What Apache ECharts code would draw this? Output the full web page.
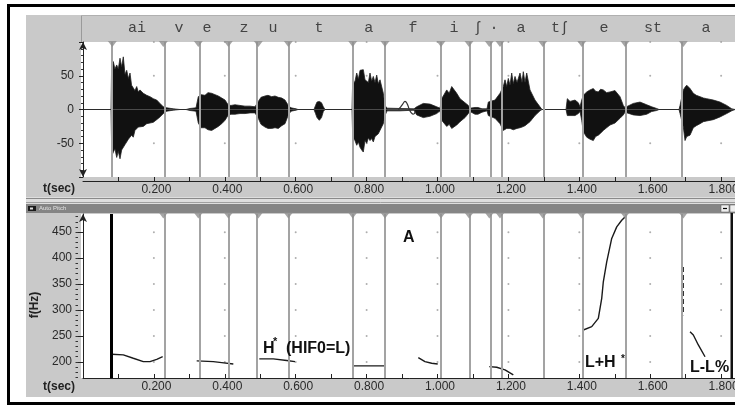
<!DOCTYPE html>
<html><head><meta charset="utf-8">
<script src="https://cdn.jsdelivr.net/npm/echarts@6/dist/echarts.min.js"></script>
<style>html,body{margin:0;padding:0;background:#fff}#c{width:735px;height:407px}</style>
</head><body><div id="c"></div>
<script>
// ---- data ----
const segBounds = [0.0827,0.2265,0.3252,0.4099,0.4945,0.5791,0.7608,0.8519,1.0099,1.0889,1.1461,1.1763,1.2968,1.4068,1.5289,1.6934];
const segLabels = ['ai','v','e','z','u','t','a','f','i','ʃ','·','a','tʃ','e','st','a'];
const segLabelTimes = [0.1523,0.2708,0.3498,0.4542,0.5360,0.6657,0.8060,0.9309,1.0465,1.1142,1.1594,1.2355,1.3456,1.4697,1.6079,1.7574];
const cursorTime = 0.0827;
const timeTicks = [0.2,0.4,0.6,0.8,1.0,1.2,1.4,1.6,1.8];
const ampDots = [100,50,-50];
const hzDots = [450,400,350,300,250,200];
const hzLabels = [200,250,300,350,400,450];
const hzMinor = [170,180,190,200,210,220,230,240,250,260,270,280,290,300,310,320,330,340,350,360,370,380,390,400,410,420,430,440,450,460,470,480];
// waveform envelope: [time s, upper, lower]
const waveEnvelope = [
[0,0,0],[0.0790,0,0],[0.0810,73,-61],[0.0833,62,-66],[0.0855,71,-68],[0.0900,60,-58],[0.0951,66,-71],[0.0995,60,-62],
[0.1044,76,-73],[0.1090,63,-60],[0.1137,78,-61],[0.1185,52,-52],[0.1233,58,-50],[0.1280,46,-44],
[0.1326,54,-46],[0.1370,36,-38],[0.1419,34,-41],[0.1465,28,-31],[0.1515,34,-33],[0.1560,26,-26],[0.1608,29,-28],[0.1701,24,-25],[0.1797,21,-21],[0.1890,19,-20],
[0.1983,16,-19],[0.2079,14,-15],[0.2172,9,-11],[0.2265,4,-6],[0.2361,2.5,-2.5],[0.2547,1,-1],[0.2736,0,0],[0.2906,0,0],
[0.3018,1.5,-1.5],[0.3188,2.5,-2.5],[0.3252,19,-20],[0.3329,22,-27],[0.3441,21,-27],[0.3526,25,-30],[0.3630,24,-31],
[0.3724,22,-28],[0.3817,20,-25],[0.3913,17,-21],[0.4006,14,-16],[0.4099,6.5,-8],[0.4175,6,-7],[0.4288,7,-7],[0.4429,6,-6],
[0.4570,5,-6],[0.4711,5,-5],[0.4852,4,-5],[0.4945,12,-13],[0.5021,18,-22],[0.5134,20,-26],[0.5219,21,-28],[0.5323,19,-28],
[0.5416,20,-27],[0.5509,18,-28],[0.5605,17,-24],[0.5698,14,-21],[0.5791,6,-8],[0.5867,2.5,-2.5],[0.6008,1,-1],[0.6065,0,0],
[0.6516,0,0],[0.6559,6,-6],[0.6601,11,-12],[0.6666,12,-16],[0.6728,10,-12],[0.6779,4,-3],[0.6827,0,0],[0.7588,0,0],
[0.7608,44,-41],[0.7665,40,-45],[0.7721,54,-53],[0.7768,45,-48],[0.7814,58,-56],[0.7862,59,-60],[0.7907,59,-63],[0.7955,44,-46],
[0.8003,46,-50],[0.8050,40,-42],[0.8096,54,-46],[0.8142,42,-43],[0.8189,49,-48],[0.8237,40,-40],[0.8285,51,-41],[0.8330,38,-36],
[0.8378,44,-36],[0.8471,24,-21],[0.8519,6,-9],[0.8575,2,-2],[0.8942,1.5,-2],[0.9337,1,-1],
[0.9413,4,-8],[0.9599,9,-12],[0.9788,8,-10],[0.9977,4,-6],[1.0071,2,-2],[1.0118,16,-16],[1.0260,29,-25],[1.0330,24,-22],[1.0401,34,-28],
[1.0542,24,-23],[1.0635,16,-18],[1.0683,18,-16],[1.0776,10,-12],[1.0869,6,-6],[1.0917,2,-3],[1.1058,3,-7],[1.1142,3,-7],
[1.1255,1,-4],[1.1396,1,-2],[1.1433,11,-9],[1.1622,14,-13],[1.1763,24,-21],[1.1856,34,-31],[1.1904,44,-30],[1.1952,34,-28],
[1.1997,46,-26],[1.2045,36,-28],[1.2093,54,-29],[1.2138,38,-30],[1.2186,49,-30],[1.2243,40,-28],[1.2327,54,-27],
[1.2384,40,-26],[1.2420,56,-25],[1.2468,40,-24],[1.2516,54,-24],[1.2609,29,-18],[1.2750,14,-9],[1.2891,4,-2],[1.2948,0,0],
[1.3625,0,0],[1.3661,16,-9],[1.3738,12,-9],[1.3879,14,-9],[1.3972,10,-6],[1.4020,4,-3],[1.4068,14,-16],[1.4113,21,-33],
[1.4209,26,-41],[1.4302,29,-44],[1.4395,31,-46],[1.4460,27,-40],[1.4536,26,-38],[1.4600,30,-35],[1.4677,29,-31],[1.4770,25,-27],[1.4866,26,-23],[1.5007,28,-20],
[1.5148,19,-13],[1.5241,6,-8],[1.5289,3,-4],[1.5337,4,-4],[1.5523,9,-8],[1.5712,11,-9],[1.5901,7,-7],[1.6042,4,-3],
[1.6183,1.5,-1.5],[1.6248,0,0],[1.6812,0,0],[1.6841,6,-6],[1.6934,29,-26],[1.6982,33,-46],[1.7030,36,-40],[1.7123,31,-38],
[1.7216,24,-27],[1.7300,21,-24],[1.7405,19,-21],[1.7500,17,-18],[1.7593,16,-17],[1.7780,14,-15],[1.7969,11,-11],[1.8158,6,-6],[1.8299,1,-2],[1.8392,0,0]
];
const waveWiggle = [[0.8894,0],[0.8962,4],[0.9018,8],[0.9083,12],[0.9148,8],[0.9205,0],[0.9261,-5],[0.9317,-7],[0.9374,-3]];
const pitchSegments = [
[[0.081,214.8],[0.1137,213.5],[0.1419,207],[0.1701,200.6],[0.189,200.6],[0.2079,205],[0.2248,210]],
[[0.3207,202],[0.3676,200.6],[0.3913,198.7],[0.424,196]],
[[0.4973,205.8],[0.5368,205.8],[0.5746,202.6],[0.598,200.6]],
[[0.7625,192.3],[0.8539,192.3]],
[[0.9458,208.3],[0.9647,200.6],[0.9836,197.5],[1.0006,196]],
[[1.1461,191],[1.167,189.7],[1.1904,184.6],[1.2138,175]],
[[1.4113,261.5],[1.435,267.9],[1.4536,284],[1.4632,322.5],[1.4677,354.4],[1.4773,392.9],[1.4914,437.9],[1.5055,460.2],[1.5196,473],[1.5289,479.4]],
[[1.7123,258.3],[1.7216,251.9],[1.7357,232.7],[1.7546,210]]
];
const pitchDashed = [[1.6934,383],[1.6934,290]];

// ---- chart ----
const chart = echarts.init(document.getElementById('c'), null, {renderer:'canvas'});
const SANS = '"Liberation Sans", Arial, sans-serif';
const MONO = '"Liberation Mono", "DejaVu Sans Mono", monospace';
const xFmt = v => (Math.round(v*10) % 2 === 0 && v > 0.01) ? v.toFixed(3) : '';
const xAxisBase = (gi, off) => ({
  gridIndex: gi, type:'value', min:0, max:1.84, interval:0.1, offset: off,
  axisLine:{show:true, onZero:false, lineStyle:{color:'#222', width:1}},
  axisTick:{show:true, inside:true, length:4, lineStyle:{color:'#222'}},
  axisLabel:{formatter:xFmt, margin:3, padding:[0,0,0,5], color:'#2a2a2a', fontSize:12, fontFamily:SANS, showMaxLabel:false, showMinLabel:false},
  splitLine:{show:false}
});
function cross(xs, ys){ const out=[]; xs.forEach(x=>ys.forEach(y=>out.push([x,y]))); return out; }
const pitchSeries = pitchSegments.map(seg => ({
  type:'line', xAxisIndex:2, yAxisIndex:2, data:seg, symbol:'none', smooth:false, z:4, silent:true,
  lineStyle:{color:'#1a1a1a', width:1.4}
}));

const option = {
  animation:false,
  backgroundColor:'#fff',
  grid:[
    {left:83, top:15, width:652.3, height:27, outerBoundsMode:'none', containLabel:false},
    {left:83, top:42, width:652.3, height:135, outerBoundsMode:'none', containLabel:false},
    {left:83, top:214, width:652.3, height:164, outerBoundsMode:'none', containLabel:false}
  ],
  xAxis:[
    {gridIndex:0, type:'value', min:0, max:1.84, show:false},
    xAxisBase(1, 4),
    xAxisBase(2, 0)
  ],
  yAxis:[
    {gridIndex:0, type:'value', min:0, max:1, show:false},
    {gridIndex:1, type:'value', min:-100, max:100, interval:50, offset:5,
     axisLine:{show:true, lineStyle:{color:'#222'}, symbol:['arrow','arrow'], symbolSize:[6,8]},
     axisTick:{show:true, length:4, lineStyle:{color:'#222'}},
     minorTick:{show:true, splitNumber:5, length:2, lineStyle:{color:'#333'}},
     axisLabel:{showMinLabel:false, showMaxLabel:false, margin:4, color:'#2a2a2a', fontSize:12, fontFamily:SANS},
     splitLine:{show:false}},
    {gridIndex:2, type:'value', min:169, max:485, offset:5,
     axisLine:{show:true, lineStyle:{color:'#222'}, symbol:['none','arrow'], symbolSize:[6,8]},
     axisTick:{show:true, length:5, customValues:hzLabels, lineStyle:{color:'#222'}},
     axisLabel:{customValues:hzLabels, margin:6, color:'#2a2a2a', fontSize:12, fontFamily:SANS},
     splitLine:{show:false}},
    {gridIndex:2, type:'value', min:169, max:485, offset:5, position:'left',
     axisLine:{show:false},
     axisTick:{show:true, length:2.5, customValues:hzMinor, lineStyle:{color:'#333'}},
     axisLabel:{show:false}, splitLine:{show:false}}
  ],
  series:[
    {type:'scatter', xAxisIndex:0, yAxisIndex:0, silent:true, symbolSize:1, z:6, itemStyle:{color:'rgba(0,0,0,0)'},
     data: segLabelTimes.map((t,i)=>({value:[t,0.5], name:segLabels[i]})),
     label:{show:true, position:'inside', formatter:'{b}', color:'#222', fontSize:15, fontFamily:MONO}},
    {type:'scatter', xAxisIndex:1, yAxisIndex:1, silent:true, symbolSize:2, z:1,
     itemStyle:{color:'#9a9a9a'}, data: cross(timeTicks, ampDots)},
    {type:'line', xAxisIndex:1, yAxisIndex:1, silent:true, data:[[0,0]], symbol:'none', lineStyle:{opacity:0}, z:1,
     markLine:{silent:true, symbol:['none','none'], label:{show:false}, animation:false,
       lineStyle:{color:'#a3a3a3', width:2, type:'solid'}, data: segBounds.map(t=>({xAxis:t}))}},
    {type:'line', xAxisIndex:1, yAxisIndex:1, silent:true, symbol:'none', z:3,
     data: waveEnvelope.map(d=>[d[0],d[1]]),
     lineStyle:{color:'#222', width:0.8}, areaStyle:{color:'#111', opacity:1}},
    {type:'line', xAxisIndex:1, yAxisIndex:1, silent:true, symbol:'none', z:3,
     data: waveEnvelope.map(d=>[d[0],d[2]]),
     lineStyle:{color:'#222', width:0.8}, areaStyle:{color:'#111', opacity:1}},
    {type:'line', xAxisIndex:1, yAxisIndex:1, silent:true, symbol:'none', z:3, smooth:true,
     data: waveWiggle, lineStyle:{color:'#333', width:1.2}},
    {type:'scatter', xAxisIndex:1, yAxisIndex:1, silent:true, clip:false, z:5,
     symbol:'triangle', symbolRotate:180, symbolSize:[9,6], symbolOffset:[0,2],
     itemStyle:{color:'#8e8e8e'}, data: segBounds.map(t=>[t,100])},
    {type:'scatter', xAxisIndex:2, yAxisIndex:2, silent:true, symbolSize:2, z:1,
     itemStyle:{color:'#9a9a9a'}, data: cross(timeTicks, hzDots)},
    {type:'line', xAxisIndex:2, yAxisIndex:2, silent:true, data:[[0,300]], symbol:'none', lineStyle:{opacity:0}, z:1,
     markLine:{silent:true, symbol:['none','none'], label:{show:false}, animation:false,
       lineStyle:{color:'#a3a3a3', width:2, type:'solid'}, data: segBounds.slice(1).map(t=>({xAxis:t}))}},
    {type:'line', xAxisIndex:2, yAxisIndex:2, silent:true, data:[[0,300]], symbol:'none', lineStyle:{opacity:0}, z:2,
     markLine:{silent:true, symbol:['none','none'], label:{show:false}, animation:false,
       lineStyle:{color:'#000', width:3, type:'solid'}, data: [{xAxis:cursorTime}]}},
    {type:'scatter', xAxisIndex:2, yAxisIndex:2, silent:true, clip:false, z:5,
     symbol:'triangle', symbolRotate:180, symbolSize:[9,6], symbolOffset:[0,1.5],
     itemStyle:{color:'#8e8e8e'}, data: segBounds.slice(1).map(t=>[t,485])},
    {type:'line', xAxisIndex:2, yAxisIndex:2, silent:true, symbol:'none', z:4, data: pitchDashed,
     lineStyle:{color:'#333', width:1.4, type:[5,3]}},
    ...pitchSeries
  ],
  graphic:[
    {type:'rect', z:-10, shape:{x:8.5,y:5.5,width:740,height:398}, style:{fill:'#fff', stroke:'#000', lineWidth:3}},
    {type:'rect', z:-9, shape:{x:26,y:15,width:709,height:382}, style:{fill:'#c9c9c9'}},
    {type:'rect', z:-8, shape:{x:26,y:197,width:709,height:7}, style:{fill:'#dedede'}},
    {type:'line', z:-7, shape:{x1:26,y1:198.5,x2:735,y2:198.5}, style:{stroke:'#8a8a8a', lineWidth:1}},
    {type:'line', z:-7, shape:{x1:26,y1:202.5,x2:735,y2:202.5}, style:{stroke:'#a0a0a0', lineWidth:1}},
    {type:'rect', z:-8, shape:{x:26,y:204,width:709,height:9}, style:{fill:'#858585'}},
    {type:'rect', z:-7, shape:{x:28,y:206,width:8,height:5}, style:{fill:'#1a1a1a'}},
    {type:'rect', z:-6, shape:{x:30,y:207.5,width:3,height:2}, style:{fill:'#ddd'}},
    {type:'text', z:-6, x:39, y:208.5, style:{text:'Auto Pitch', font:'6px '+SANS, fill:'#e2e2e2', textVerticalAlign:'middle'}},
    {type:'rect', z:-6, shape:{x:721,y:205,width:8,height:7}, style:{fill:'#eeeeee', stroke:'#555', lineWidth:0.5}},
    {type:'line', z:-5, shape:{x1:723,y1:208.5,x2:727,y2:208.5}, style:{stroke:'#000', lineWidth:1.2}},
    {type:'rect', z:-6, shape:{x:730,y:205,width:6,height:7}, style:{fill:'#eeeeee', stroke:'#555', lineWidth:0.5}},
    {type:'rect', z:-8, shape:{x:81,y:42,width:654,height:135}, style:{fill:'#fff'}},
    {type:'rect', z:-8, shape:{x:81,y:214,width:654,height:164}, style:{fill:'#fff'}},
    {type:'line', z:-7, shape:{x1:81.5,y1:15,x2:81.5,y2:42}, style:{stroke:'#9a9a9a', lineWidth:1}},
    {type:'line', z:-7, shape:{x1:81,y1:15.5,x2:735,y2:15.5}, style:{stroke:'#b0b0b0', lineWidth:1}},
    {type:'rect', z:10, shape:{x:730.5,y:213,width:2.5,height:166}, style:{fill:'#111'}},
    {type:'text', z:10, x:59, y:189, style:{text:'t(sec)', font:'bold 12px '+SANS, fill:'#222', textAlign:'center', textVerticalAlign:'middle'}},
    {type:'text', z:10, x:59, y:387, style:{text:'t(sec)', font:'bold 12px '+SANS, fill:'#222', textAlign:'center', textVerticalAlign:'middle'}},
    {type:'text', z:10, x:35, y:305, rotation:Math.PI/2, style:{text:'f(Hz)', font:'bold 12px '+SANS, fill:'#222', textAlign:'center', textVerticalAlign:'middle'}},
    {type:'text', z:20, x:263, y:349, style:{text:'H', font:'bold 16px '+SANS, fill:'#111', textVerticalAlign:'middle'}},
    {type:'text', z:20, x:273, y:342, style:{text:'*', font:'bold 11px '+SANS, fill:'#111', textVerticalAlign:'middle'}},
    {type:'text', z:20, x:286, y:349, style:{text:'(HIF0=L)', font:'bold 16px '+SANS, fill:'#111', textVerticalAlign:'middle'}},
    {type:'text', z:20, x:403, y:238, style:{text:'A', font:'bold 16px '+SANS, fill:'#111', textVerticalAlign:'middle'}},
    {type:'text', z:20, x:585, y:363, style:{text:'L+H', font:'bold 16px '+SANS, fill:'#111', textVerticalAlign:'middle'}},
    {type:'text', z:20, x:621, y:359, style:{text:'*', font:'bold 10px '+SANS, fill:'#111', textVerticalAlign:'middle'}},
    {type:'text', z:20, x:690, y:368, style:{text:'L-L%', font:'bold 16px '+SANS, fill:'#111', textVerticalAlign:'middle'}}
  ]
};
chart.setOption(option);
</script></body></html>
